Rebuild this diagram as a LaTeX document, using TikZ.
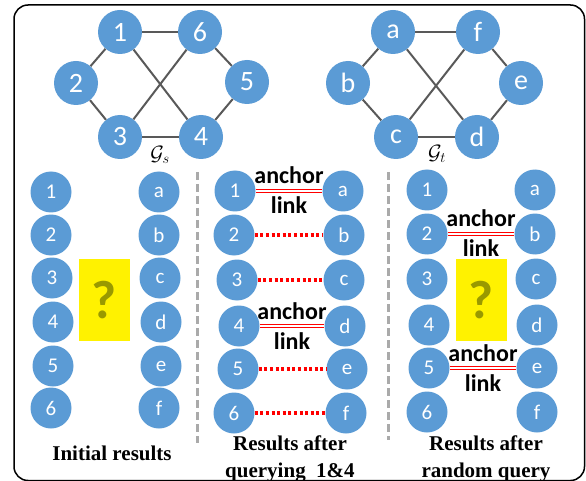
\documentclass[tikz,border=0pt]{standalone}
\usepackage{fontspec}
\setmainfont{Liberation Serif}
\newfontfamily\calibri{Carlito}
\usetikzlibrary{positioning}
\definecolor{nodeblue}{RGB}{91,155,213}
\definecolor{edgegray}{RGB}{89,89,89}
\definecolor{sepgray}{RGB}{170,170,170}
\definecolor{qmark}{RGB}{153,153,0}
\tikzset{
  vtx/.style={
    circle,
    fill=nodeblue,
    text=white,
    inner sep=0pt,
    minimum size=44pt,
    font=\calibri\fontsize{28}{28}\selectfont
  },
  cell/.style={
    circle,
    fill=nodeblue,
    text=white,
    inner sep=0pt,
    minimum size=41pt,
    font=\calibri\fontsize{21}{21}\selectfont
  },
  edge/.style={draw=edgegray, line width=2pt},
  anchorlink/.style={draw=red, line width=1.3pt, double=white, double distance=1.2pt},
  guesslink/.style={draw=red, line width=3.2pt, dash pattern=on 3pt off 2.6pt},
  linklabel/.style={font=\calibri\bfseries\fontsize{24}{24}\selectfont, inner sep=0pt},
  qbox/.style={
    rectangle,
    fill=yellow,
    text=qmark,
    minimum width=51pt,
    minimum height=82pt,
    font=\calibri\bfseries\fontsize{54}{54}\selectfont
  },
  caption/.style={font=\bfseries\fontsize{21}{27}\selectfont, align=center},
  sep/.style={draw=sepgray, line width=3pt, dash pattern=on 8pt off 4pt},
  frame/.style={draw, line width=1.5pt, rounded corners=14pt}
}

\begin{document}
\begin{tikzpicture}[x=1pt, y=-1pt]
\useasboundingbox (0,0) rectangle (586,481);
\draw[frame] (14,5) rectangle (584.5,480.5);

% source graph
\node[vtx] (s1) at (120,32) {1};
\node[vtx] (s6) at (200,32) {6};
\node[vtx] (s2) at (76,83) {2};
\node[vtx] (s5) at (247,82) {5};
\node[vtx] (s3) at (120,137) {3};
\node[vtx] (s4) at (201,137) {4};
\node[font=\fontsize{20}{20}\selectfont] (gs) at (160,155) {$\mathcal{G}_s$};

\draw[edge] (s1) -- (s6);
\draw[edge] (s1) -- (s2);
\draw[edge] (s2) -- (s3);
\draw[edge] (s3) -- (s4);
\draw[edge] (s4) -- (s5);
\draw[edge] (s5) -- (s6);
\draw[edge] (s1) -- (s4);
\draw[edge] (s6) -- (s3);

% target graph
\node[vtx] (ta) at (393,32) {a};
\node[vtx] (tf) at (478,32) {f};
\node[vtx] (tb) at (348,83) {b};
\node[vtx] (te) at (521,83) {e};
\node[vtx] (tc) at (396,137) {c};
\node[vtx] (td) at (477,137) {d};
\node[font=\fontsize{20}{20}\selectfont] (gt) at (437,154) {$\mathcal{G}_t$};

\draw[edge] (ta) -- (tf);
\draw[edge] (ta) -- (tb);
\draw[edge] (tb) -- (tc);
\draw[edge] (tc) -- (td);
\draw[edge] (td) -- (te);
\draw[edge] (te) -- (tf);
\draw[edge] (ta) -- (td);
\draw[edge] (tf) -- (tc);

% separators
\draw[sep] (197,172) -- (197,443);
\draw[sep] (388,172) -- (388,440);

% initial results
\node[cell] (l1) at (51,192) {1};
\node[cell] (l2) at (51,235) {2};
\node[cell] (l3) at (52,278) {3};
\node[cell] (l4) at (53,322) {4};
\node[cell] (l5) at (53,366) {5};
\node[cell] (l6) at (51,408) {6};
\node[cell] (la) at (159,192) {a};
\node[cell] (lb) at (159,235) {b};
\node[cell] (lc) at (160,278) {c};
\node[cell] (ld) at (161,322) {d};
\node[cell] (le) at (161,366) {e};
\node[cell] (lf) at (159,408) {f};
\node[qbox] (lq) at (104.5,300) {?};
\node[caption] (lcap) at (112,453) {Initial results};

% after querying 1 and 4
\node[cell] (m1) at (235,191) {1};
\node[cell] (m2) at (234,235) {2};
\node[cell] (m3) at (237,280) {3};
\node[cell] (m4) at (239,326) {4};
\node[cell] (m5) at (238,369) {5};
\node[cell] (m6) at (234,413) {6};
\node[cell] (ma) at (343,191) {a};
\node[cell] (mb) at (344,235) {b};
\node[cell] (mc) at (344,280) {c};
\node[cell] (md) at (345,326) {d};
\node[cell] (me) at (347,369) {e};
\node[cell] (mf) at (346,413) {f};
\node[caption] (mcap) at (290,459) {Results after\\querying~ 1\&4};

\draw[anchorlink] (m1) -- node[linklabel, yshift=16pt] {anchor} node[linklabel, yshift=-14pt] {link} (ma);
\draw[guesslink] (m2) -- (mb);
\draw[guesslink] (m3) -- (mc);
\draw[anchorlink] (m4) -- node[linklabel, yshift=15pt] {anchor} node[linklabel, yshift=-15pt] {link} (md);
\draw[guesslink] (m5) -- (me);
\draw[guesslink] (m6) -- (mf);

% after random query
\node[cell] (r1) at (427,190) {1};
\node[cell] (r2) at (427,234) {2};
\node[cell] (r3) at (427,279) {3};
\node[cell] (r4) at (429,325) {4};
\node[cell] (r5) at (429,368) {5};
\node[cell] (r6) at (427,412) {6};
\node[cell] (ra) at (535,190) {a};
\node[cell] (rb) at (535,234) {b};
\node[cell] (rc) at (536,279) {c};
\node[cell] (rd) at (537,325) {d};
\node[cell] (re) at (537,368) {e};
\node[cell] (rf) at (537,412) {f};
\node[qbox] (rq) at (481.5,300) {?};
\node[caption] (rcap) at (486,459) {Results after\\random query};

\draw[anchorlink] (r2) -- node[linklabel, yshift=16pt] {anchor} node[linklabel, yshift=-14pt] {link} (rb);
\draw[anchorlink] (r5) -- node[linklabel, yshift=15pt] {anchor} node[linklabel, yshift=-15pt] {link} (re);
\end{tikzpicture}
\end{document}
